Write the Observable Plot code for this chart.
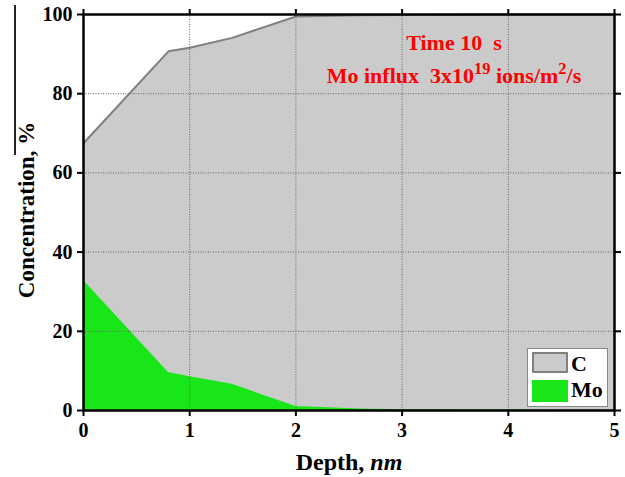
<!DOCTYPE html>
<html>
<head>
<meta charset="utf-8">
<script src="https://cdn.jsdelivr.net/npm/d3@7"></script>
<script src="https://cdn.jsdelivr.net/npm/@observablehq/plot@0.6"></script>
<style>
  html, body { margin: 0; padding: 0; background: #fff; }
  #wrap { position: relative; width: 625px; height: 477px; font-family: "Liberation Serif", "Times New Roman", serif; font-weight: bold; }
  .abs { position: absolute; white-space: nowrap; line-height: 1; }
  sup { font-size: 0.75em; vertical-align: 0.55em; line-height: 0; }
</style>
</head>
<body>
<div id="wrap"></div>
<script>
// Depth (nm)
const depth = [0, 0.8, 1.0, 1.4, 2.0, 2.6, 3.0, 4.0, 5.0];
// Concentrations (%)
const carbon = [67.5, 90.7, 91.6, 94.1, 99.5, 99.8, 99.9, 100, 100];
const molybdenum = [32.8, 9.6, 8.5, 6.6, 1.0, 0.4, 0.2, 0.1, 0.0];
const xTicks = [0, 1, 2, 3, 4, 5];
const yTicks = [0, 20, 40, 60, 80, 100];
const gridXTicks = [1, 2, 3, 4];
const gridYTicks = [20, 40, 60, 80];
const annotation1 = "Time 10\u00a0 s";
const legendLabels = ["C", "Mo"];

const rows = depth.map((d, i) => ({depth: d, C: carbon[i], Mo: molybdenum[i]}));

const font = '"Liberation Serif", "Times New Roman", serif';
const grayFill = "#cbcbcb";
const grayLine = "#808080";
const green = "#19e619";

const chart = Plot.plot({
  width: 625,
  height: 477,
  marginLeft: 83,
  marginRight: 11,
  marginTop: 14,
  marginBottom: 67,
  style: {fontFamily: font, fontWeight: "bold", fontSize: "20px", background: "white", color: "black"},
  x: {domain: [0, 5]},
  y: {domain: [0, 100]},
  marks: [
    Plot.areaY(rows, {x: "depth", y: "C", fill: grayFill}),
    Plot.lineY(rows, {x: "depth", y: "C", stroke: grayLine, strokeWidth: 2}),
    Plot.areaY(rows, {x: "depth", y: "Mo", fill: green}),
    Plot.gridX({ticks: gridXTicks, stroke: "#666", strokeOpacity: 1, strokeDasharray: "1,1.5", strokeWidth: 1}),
    Plot.gridY({ticks: gridYTicks, stroke: "#666", strokeOpacity: 1, strokeDasharray: "1,1.5", strokeWidth: 1}),
    Plot.frame({stroke: "black", strokeWidth: 2.5}),
    Plot.axisX({anchor: "bottom", ticks: xTicks, tickSize: 6, tickPadding: 6, strokeWidth: 2, fontSize: 20, fontWeight: "bold", label: null, tickFormat: d => String(d)}),
    Plot.axisX({anchor: "top", ticks: xTicks, tickSize: 6, strokeWidth: 2, label: null, tickFormat: () => ""}),
    Plot.axisY({anchor: "left", ticks: yTicks, tickSize: 6, tickPadding: 5, strokeWidth: 2, fontSize: 20, fontWeight: "bold", label: null, tickFormat: d => String(d)}),
    Plot.axisY({anchor: "right", ticks: yTicks, tickSize: 6, strokeWidth: 2, label: null, tickFormat: () => ""})
  ]
});

const wrap = document.getElementById("wrap");
wrap.appendChild(chart);

function addDiv(html, css) {
  const d = document.createElement("div");
  d.className = "abs";
  d.innerHTML = html;
  Object.assign(d.style, css);
  wrap.appendChild(d);
  return d;
}

// stray vertical rule seen at the far left of the reference
addDiv("", {left: "14px", top: "5px", width: "1.5px", height: "150px", background: "#222"});

// Axis titles
addDiv("Concentration, %", {left: "26px", top: "210px", fontSize: "23px", transform: "translate(-50%, -50%) rotate(-90deg)"});
addDiv("Depth, <i>nm</i>", {left: "349px", top: "450px", fontSize: "24px", transform: "translateX(-50%)"});

// Annotations
addDiv(annotation1, {left: "454px", top: "32px", fontSize: "22px", color: "#ff0000", transform: "translateX(-50%)"});
addDiv("Mo influx\u00a0 3x10<sup>19</sup> ions/m<sup>2</sup>/s", {left: "454px", top: "65px", fontSize: "22px", color: "#ff0000", transform: "translateX(-50%)"});

// Legend
const legend = addDiv("", {left: "527px", top: "348px", width: "81px", height: "59px", background: "#fff", border: "1px solid #888", boxSizing: "border-box"});
const sw1 = document.createElement("div");
Object.assign(sw1.style, {position: "absolute", left: "4px", top: "3px", width: "36px", height: "21px", background: grayFill, border: "2px solid " + grayLine, boxSizing: "border-box", borderRadius: "1px"});
const sw2 = document.createElement("div");
Object.assign(sw2.style, {position: "absolute", left: "4px", top: "31px", width: "36px", height: "22px", background: green});
legend.appendChild(sw1);
legend.appendChild(sw2);
const t1 = document.createElement("div");
t1.textContent = legendLabels[0];
Object.assign(t1.style, {position: "absolute", left: "43px", top: "4px", fontSize: "22px", lineHeight: "1"});
const t2 = document.createElement("div");
t2.textContent = legendLabels[1];
Object.assign(t2.style, {position: "absolute", left: "43px", top: "30px", fontSize: "22px", lineHeight: "1"});
legend.appendChild(t1);
legend.appendChild(t2);
</script>
</body>
</html>
